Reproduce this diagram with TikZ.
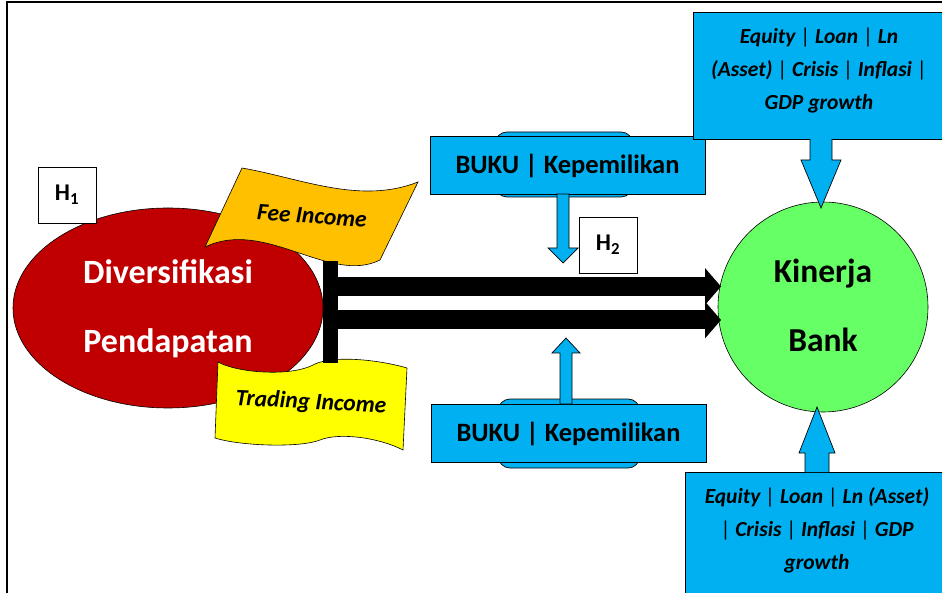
\documentclass[tikz,border=0pt]{standalone}
\usepackage{fontspec}
\setmainfont{Carlito}
\usetikzlibrary{arrows.meta,shapes.geometric}
\definecolor{dred}{HTML}{C00000}
\definecolor{orng}{HTML}{FFC000}
\definecolor{yel}{HTML}{FFFF00}
\definecolor{lgreen}{HTML}{66FF66}
\definecolor{sky}{HTML}{00B0F0}
\newcommand{\vb}{{\normalfont\mdseries |}}
\begin{document}
\begin{tikzpicture}[x=1pt,y=-1pt,
  outl/.style={draw=black, line width=0.7pt},
  hbox/.style={draw=black, line width=0.6pt, fill=white, inner sep=0pt,
    minimum width=58pt, minimum height=56pt, font=\bfseries\fontsize{24}{26}\selectfont},
  bukubox/.style={outl, fill=sky, inner sep=0pt, minimum width=275pt, minimum height=58pt,
    font=\bfseries\fontsize{26.5}{28}\selectfont},
  ctrlbox/.style={outl, fill=sky, inner sep=0pt},
  ctrltxt/.style={align=center, font=\bfseries\itshape\fontsize{21.5}{33}\selectfont, inner sep=0pt},
  bigtxt/.style={align=center, font=\bfseries\fontsize{34}{69}\selectfont, inner sep=0pt},
  flagtxt/.style={font=\bfseries\itshape\fontsize{23.5}{26}\selectfont, inner sep=0pt},
  blockarrow/.style={outl, fill=sky},
  bigarrow/.style={line width=19pt, -{Triangle[length=16pt,width=36pt]}}
]
\useasboundingbox (0,0) rectangle (942,593);
% frame
\draw[line width=2pt] (7,610) -- (7,2) -- (960,2);

% ellipse
\node[ellipse, draw=black, line width=0.6pt, fill=dred, minimum width=310pt, minimum height=200pt, inner sep=0pt] (div) at (168,308) {};
\node[bigtxt, text=white] (divtxt) at (168,309) {Diversifikasi\\Pendapatan};

% Fee income flag
\filldraw[fill=orng, draw=black, line width=0.6pt]
  (242,168) .. controls (300,178) and (360,205) .. (418,182)
  -- (380,260) .. controls (330,285) and (265,218) .. (205,247) -- cycle;
\node[flagtxt, rotate=-4] (fee) at (312,216) {Fee Income};

% Trading income flag
\filldraw[fill=yel, draw=black, line width=0.6pt]
  (218,362) .. controls (235,372) and (290,378) .. (315,364)
  .. controls (335,355) and (380,360) .. (407,368)
  -- (403,450) .. controls (380,438) and (340,432) .. (320,440)
  .. controls (300,448) and (240,446) .. (215,438) -- cycle;
\node[flagtxt, rotate=-3] (trade) at (311,403) {Trading Income};

% H1
\node[hbox] (h1) at (67,195) {H\textsubscript{1}};

% green circle
\node[circle, draw=black, line width=0.6pt, fill=lgreen, minimum size=210pt, inner sep=0pt] (kin) at (823,307) {};
\node[bigtxt, font=\bfseries\fontsize{33.5}{69}\selectfont] (kintxt) at (823,305) {Kinerja\\Bank};

% black E connector
\coordinate (s1) at (323,286.5);
\coordinate (t1) at (721,286.5);
\coordinate (s2) at (323,320);
\coordinate (t2) at (721,320);
\fill[black] (323,261) rectangle (338,363);
\draw[bigarrow] (s1) -- (t1);
\draw[bigarrow] (s2) -- (t2);

% BUKU boxes
\filldraw[outl, fill=sky, rounded corners=12pt] (495,132) rectangle (633,197);
\node[bukubox] (buku1) at (567.5,165.5) {BUKU | Kepemilikan};
\filldraw[outl, fill=sky, rounded corners=12pt] (498,399) rectangle (640,468);
\node[bukubox] (buku2) at (568.5,433.5) {BUKU | Kepemilikan};

% BUKU arrows
\filldraw[blockarrow] (557,194) -- (557,248) -- (548,248) -- (563,263) -- (578,248) -- (569,248) -- (569,194) -- cycle;
\filldraw[blockarrow] (560,404) -- (560,353) -- (552,353) -- (566,338) -- (580,353) -- (572,353) -- (572,404) -- cycle;

% H2
\node[hbox] (h2) at (608,245) {H\textsubscript{2}};

% control boxes
\node[ctrlbox, minimum width=255pt, minimum height=127pt] (c1) at (820.5,75.5) {};
\node[ctrltxt] (c1txt) at (819,70.5) {Equity \vb{} Loan \vb{} Ln\\(Asset) \vb{} Crisis \vb{} Inflasi \vb\\GDP growth};
\node[ctrlbox, minimum width=265pt, minimum height=128pt] (c2) at (817.5,536) {};
\node[ctrltxt] (c2txt) at (817,530.5) {Equity \vb{} Loan \vb{} Ln (Asset)\\\vb{} Crisis \vb{} Inflasi \vb{} GDP\\growth};

% control arrows
\filldraw[blockarrow] (810,139) -- (810,160) -- (801,160) -- (821,208) -- (841,160) -- (832,160) -- (832,139);
\filldraw[blockarrow] (805,472) -- (805,453) -- (799,453) -- (817,407) -- (835,453) -- (829,453) -- (829,472);
\end{tikzpicture}
\end{document}
